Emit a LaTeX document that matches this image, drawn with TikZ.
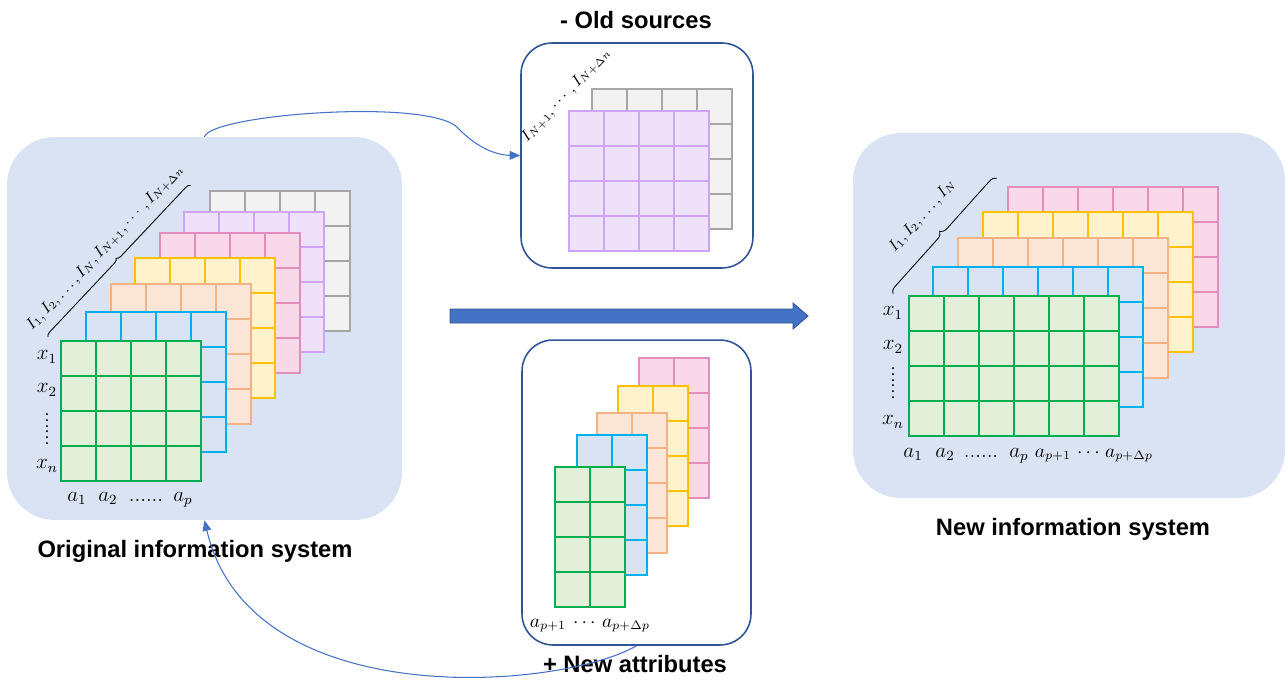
\documentclass[tikz,border=0pt]{standalone}
\usepackage{amsmath}
\usepackage{fontspec}
\newfontfamily\headfont{Liberation Sans}
\usetikzlibrary{arrows.meta,decorations.pathreplacing}

\definecolor{panelbg}{HTML}{DAE3F3}
\definecolor{panelline}{HTML}{2F5597}
\definecolor{flowblue}{HTML}{4472C4}
\definecolor{grnline}{HTML}{00B050}  \definecolor{grnfill}{HTML}{E2F0D9}
\definecolor{cyanline}{HTML}{00B0F0}
\definecolor{salline}{HTML}{F4B183}  \definecolor{salfill}{HTML}{FBE5D6}
\definecolor{yelline}{HTML}{FFC000}  \definecolor{yelfill}{HTML}{FFF2CC}
\definecolor{pnkline}{HTML}{E48DBA}  \definecolor{pnkfill}{HTML}{F9D8E9}
\definecolor{purline}{HTML}{CFA3F5}  \definecolor{purfill}{HTML}{EEE2FB}
\definecolor{gryline}{HTML}{A6A6A6}  \definecolor{gryfill}{HTML}{F2F2F2}

% one table slice: top-left x, top-left y, columns, rows, line colour, fill colour
\newcommand{\datalayer}[6]{%
  \filldraw[cell, draw=#5, fill=#6] (#1,#2) rectangle ++({#3*35},{#4*35});
  \foreach \ci in {1,...,#3} \draw[cell, draw=#5] ({#1+\ci*35},#2) -- ++(0,{#4*35});
  \foreach \ri in {1,...,#4} \draw[cell, draw=#5] (#1,{#2+\ri*35}) -- ++({#3*35},0);
}

\begin{document}
\begin{tikzpicture}[
    x=0.02cm, y=-0.02cm,
    cell/.style={line width=1.1pt},
    panel/.style={rectangle, rounded corners=0.95cm, fill=panelbg, inner sep=0pt},
    subpanel/.style={rectangle, rounded corners=0.62cm, fill=white, draw=panelline,
                     line width=0.9pt, inner sep=0pt},
    mlab/.style={font=\fontsize{12}{14}\selectfont, inner sep=0pt},
    slab/.style={font=\fontsize{10.5}{12}\selectfont, inner sep=0pt},
    blab/.style={font=\fontsize{9}{11}\selectfont, inner sep=0pt},
    headlbl/.style={font=\headfont\bfseries\fontsize{13.5}{16}\selectfont, inner sep=0pt},
    flow/.style={-{Triangle[length=6pt, width=5pt]}, flowblue, line width=0.6pt},
    bigarr/.style={fill=flowblue, draw=panelline, line width=0.5pt},
    bracel/.style={decorate, decoration={brace, amplitude=#1}, line width=0.5pt},
]
\useasboundingbox (0,0) rectangle (1287,684);

%% ── Panels ────────────────────────────────────────────────────────────────────
\node[panel, minimum width=7.9cm, minimum height=7.66cm]     (orig)    at (204.5,328.5) {};
\node[subpanel, minimum width=4.64cm, minimum height=4.5cm]  (oldsrc)  at (637,155.5)   {};
\node[subpanel, minimum width=4.58cm, minimum height=6.1cm]  (newattr) at (636.5,492.5) {};
\node[panel, minimum width=8.64cm, minimum height=7.3cm]     (newsys)  at (1069,315.5)  {};

%% ── Original information system ──────────────────────────────────────────────
\foreach \lx/\ly/\ld/\lf in {210/191/gryline/gryfill, 184/212/purline/purfill,
                             160/233/pnkline/pnkfill, 135/258/yelline/yelfill,
                             111/284/salline/salfill, 86/312/cyanline/panelbg,
                             61/341/grnline/grnfill}
  {\datalayer{\lx}{\ly}{4}{4}{\ld}{\lf}}

\foreach \yy/\lab [count=\i] in {357/x_1, 390/x_2, 466/x_n}
  \node[mlab] (ox\i) at (47,\yy) {$\lab$};
\node[mlab, rotate=90] (oxd) at (47,429) {......};
\foreach \xx/\lab [count=\i] in {77/a_1, 108/a_2, 183/a_p}
  \node[mlab, anchor=base] (oa\i) at (\xx,501) {$\lab$};
\node[mlab, anchor=base] (oad) at (146,501) {......};

\draw[bracel=2.5pt] (48,337) -- node[blab, sloped, above=7pt] (obr)
      {$I_1,I_2,\ldots,I_N,I_{N+1},\cdots,I_{N+\Delta n}$} (191,185);

%% ── Old sources ───────────────────────────────────────────────────────────────
\foreach \lx/\ly/\ld/\lf in {592/89/gryline/gryfill, 569/111/purline/purfill}
  {\datalayer{\lx}{\ly}{4}{4}{\ld}{\lf}}
\node[blab, rotate=47] (sbr) at (566,95) {$I_{N+1},\cdots,I_{N+\Delta n}$};

%% ── New attributes ────────────────────────────────────────────────────────────
\foreach \lx/\ly/\ld/\lf in {639/358/pnkline/pnkfill, 618/386/yelline/yelfill,
                             597/413/salline/salfill, 577/435/cyanline/panelbg,
                             555/467/grnline/grnfill}
  {\datalayer{\lx}{\ly}{2}{4}{\ld}{\lf}}
\node[slab, anchor=base] (na1) at (548,627) {$a_{p+1}$};
\node[slab, anchor=base] (nad) at (586,627) {$\cdots$};
\node[slab, anchor=base] (na2) at (626,627) {$a_{p+\Delta p}$};

%% ── New information system ───────────────────────────────────────────────────
\foreach \lx/\ly/\ld/\lf in {1008/187/pnkline/pnkfill, 983/212/yelline/yelfill,
                             958/238/salline/salfill, 933/267/cyanline/panelbg,
                             909/296/grnline/grnfill}
  {\datalayer{\lx}{\ly}{6}{4}{\ld}{\lf}}

\foreach \yy/\lab [count=\i] in {313/x_1, 347/x_2, 422/x_n}
  \node[mlab] (nx\i) at (893,\yy) {$\lab$};
\node[mlab, rotate=90] (nxd) at (893,383) {......};
\foreach \xx/\lab [count=\i] in {913/a_1, 945/a_2, 1019/a_p}
  \node[mlab, anchor=base] (ra\i) at (\xx,457) {$\lab$};
\node[mlab, anchor=base] (rad1) at (981,457)  {......};
\node[slab, anchor=base] (ra4)  at (1053,457) {$a_{p+1}$};
\node[slab, anchor=base] (rad2) at (1090,457) {$\cdots$};
\node[slab, anchor=base] (ra5)  at (1129,457) {$a_{p+\Delta p}$};

\draw[bracel=4pt] (893,294) -- node[blab, sloped, above=13pt] (rbr)
      {$I_1,I_2,\ldots,I_N$} (997,178);

%% ── Titles ────────────────────────────────────────────────────────────────────
\node[headlbl] (oldT)  at (636,20)   {- Old sources};
\node[headlbl] (attrT) at (635,664)  {+ New attributes};
\node[headlbl] (origT) at (195,551)  {Original information system};
\node[headlbl] (newT)  at (1073,529) {New information system};

%% ── Arrows ────────────────────────────────────────────────────────────────────
\filldraw[bigarr] (450,309) -- (793,309) -- (793,303) -- (808,316)
                  -- (793,329) -- (793,323) -- (450,323) -- cycle;

\draw[flow] (orig.north) .. controls (212,114) and (430,98) .. (458,128)
            .. controls (470,141) and (490,155) .. (oldsrc.west);
\draw[flow] (newattr.south) .. controls (560,690) and (250,715) .. (orig.south);

\end{tikzpicture}
\end{document}
